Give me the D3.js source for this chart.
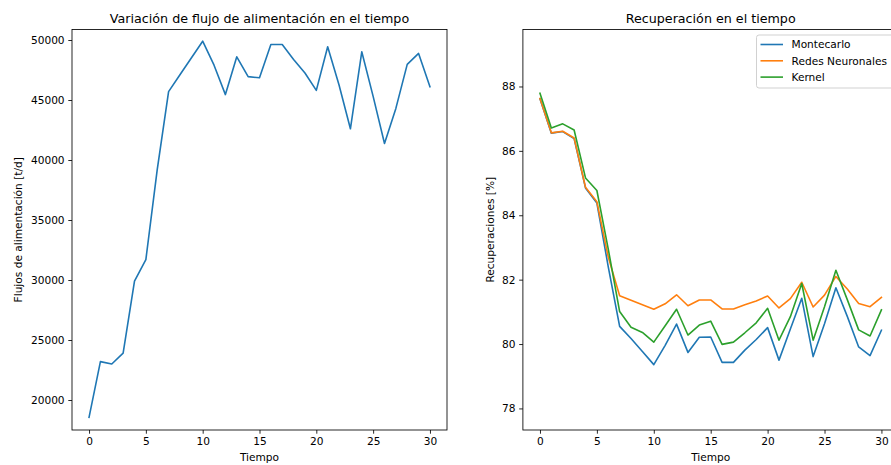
<!DOCTYPE html>
<html>
<head>
<meta charset="utf-8">
<script src="https://cdn.jsdelivr.net/npm/d3@7"></script>
<style>
  html, body { margin: 0; padding: 0; background: #fff; overflow: hidden; }
  svg { display: block; font-family: "DejaVu Sans", sans-serif; }
</style>
</head>
<body>
<svg id="chart" width="891" height="465"></svg>
<script>
// ---- data ----
const tiempo = d3.range(0, 31);
const flujo = [18550, 23200, 23000, 23900, 29900, 31700, 39200, 45700, 47100, 48500,
  49900, 47900, 45450, 48600, 46950, 46850, 49620, 49620, 48380, 47250,
  45800, 49440, 46250, 42600, 49020, 45300, 41380, 44300, 47970, 48880, 46110];
const montecarlo = [87.62, 86.55, 86.60, 86.38, 84.85, 84.38, 82.40, 80.55, 80.17, 79.77,
  79.36, 79.96, 80.62, 79.74, 80.21, 80.22, 79.43, 79.43, 79.81, 80.14,
  80.51, 79.50, 80.47, 81.42, 79.61, 80.63, 81.75, 80.86, 79.91, 79.64, 80.43];
const redes = [87.63, 86.56, 86.61, 86.40, 84.87, 84.42, 82.70, 81.50, 81.36, 81.22,
  81.08, 81.25, 81.53, 81.19, 81.37, 81.37, 81.09, 81.09, 81.22, 81.34,
  81.49, 81.12, 81.41, 81.92, 81.15, 81.52, 82.10, 81.71, 81.26, 81.16, 81.45];
const kernel = [87.79, 86.71, 86.84, 86.65, 85.16, 84.77, 82.95, 81.01, 80.52, 80.36,
  80.06, 80.57, 81.08, 80.28, 80.59, 80.71, 79.99, 80.06, 80.35, 80.66,
  81.11, 80.12, 80.85, 81.88, 80.12, 81.16, 82.29, 81.38, 80.44, 80.25, 81.06];
const seriesNames = ["Montecarlo", "Redes Neuronales", "Kernel"];
const seriesColors = ["#1f77b4", "#ff7f0e", "#2ca02c"];
const xTicks = [0, 5, 10, 15, 20, 25, 30];
const leftYTicks = [20000, 25000, 30000, 35000, 40000, 45000, 50000];
const rightYTicks = [78, 80, 82, 84, 86, 88];
const xLimits = [-1.5, 31.5];
const leftYLimits = [17500, 50875];
const rightYLimits = [77.33, 89.77];

// ---- layout ----
const svg = d3.select("#chart");
const FS = 10.6, TITLE_FS = 12.7;
const plotTop = 29.5, plotBottom = 430;

function panel(cfg) {
  const x = d3.scaleLinear().domain(xLimits).range([cfg.left, cfg.right]);
  const y = d3.scaleLinear().domain(cfg.yLim).range([plotBottom, plotTop]);
  const g = svg.append("g");

  cfg.series.forEach(s => {
    g.append("path")
      .datum(s.values)
      .attr("fill", "none")
      .attr("stroke", s.color)
      .attr("stroke-width", 1.6)
      .attr("stroke-linejoin", "round")
      .attr("stroke-linecap", "square")
      .attr("d", d3.line().x((d, i) => x(tiempo[i])).y(d => y(d)));
  });

  const xAxis = d3.axisBottom(x).tickValues(xTicks).tickSize(3.7).tickPadding(3.7).tickFormat(d3.format("d"));
  const gx = g.append("g").attr("transform", `translate(0,${plotBottom})`).call(xAxis);
  const yAxis = d3.axisLeft(y).tickValues(cfg.yTicks).tickSize(3.7).tickPadding(3.7).tickFormat(d3.format("d"));
  const gy = g.append("g").attr("transform", `translate(${cfg.left},0)`).call(yAxis);
  [gx, gy].forEach(a => {
    a.select(".domain").remove();
    a.selectAll("text").attr("font-size", FS).attr("font-family", "DejaVu Sans").attr("fill", "#000");
    a.selectAll("line").attr("stroke", "#000").attr("stroke-width", 0.85);
  });

  g.append("rect")
    .attr("x", cfg.left).attr("y", plotTop)
    .attr("width", cfg.right - cfg.left).attr("height", plotBottom - plotTop)
    .attr("fill", "none").attr("stroke", "#000").attr("stroke-width", 0.85);

  g.append("text")
    .attr("x", (cfg.left + cfg.right) / 2).attr("y", plotTop - 7)
    .attr("text-anchor", "middle").attr("font-size", TITLE_FS).attr("fill", "#000")
    .text(cfg.title);
  g.append("text")
    .attr("x", (cfg.left + cfg.right) / 2).attr("y", 461)
    .attr("text-anchor", "middle").attr("font-size", FS).attr("fill", "#000")
    .text("Tiempo");
  g.append("text")
    .attr("transform", `translate(${cfg.ylabelX},${(plotTop + plotBottom) / 2}) rotate(-90)`)
    .attr("text-anchor", "middle").attr("font-size", FS).attr("fill", "#000")
    .text(cfg.ylabel);
  return { x, y, g };
}

panel({
  left: 72, right: 447, yLim: leftYLimits, yTicks: leftYTicks,
  title: "Variación de flujo de alimentación en el tiempo",
  ylabel: "Flujos de alimentación [t/d]", ylabelX: 22,
  series: [{ values: flujo, color: "#1f77b4" }]
});

panel({
  left: 522.9, right: 898.5, yLim: rightYLimits, yTicks: rightYTicks,
  title: "Recuperación en el tiempo",
  ylabel: "Recuperaciones [%]", ylabelX: 494,
  series: [montecarlo, redes, kernel].map((v, k) => ({ values: v, color: seriesColors[k] }))
});

const lg = svg.append("g").attr("transform", "translate(756.5,35)");
lg.append("rect").attr("x", 0).attr("y", 0).attr("width", 142).attr("height", 53)
  .attr("rx", 2.5).attr("fill", "rgba(255,255,255,0.8)").attr("stroke", "#cccccc").attr("stroke-width", 0.9);
seriesNames.forEach((name, k) => {
  const yy = 9.5 + k * 16.3;
  lg.append("line").attr("x1", 4).attr("x2", 26.5).attr("y1", yy).attr("y2", yy)
    .attr("stroke", seriesColors[k]).attr("stroke-width", 1.6);
  lg.append("text").attr("x", 35).attr("y", yy + 3.8).attr("font-size", FS).attr("fill", "#000").text(name);
});
</script>
</body>
</html>
